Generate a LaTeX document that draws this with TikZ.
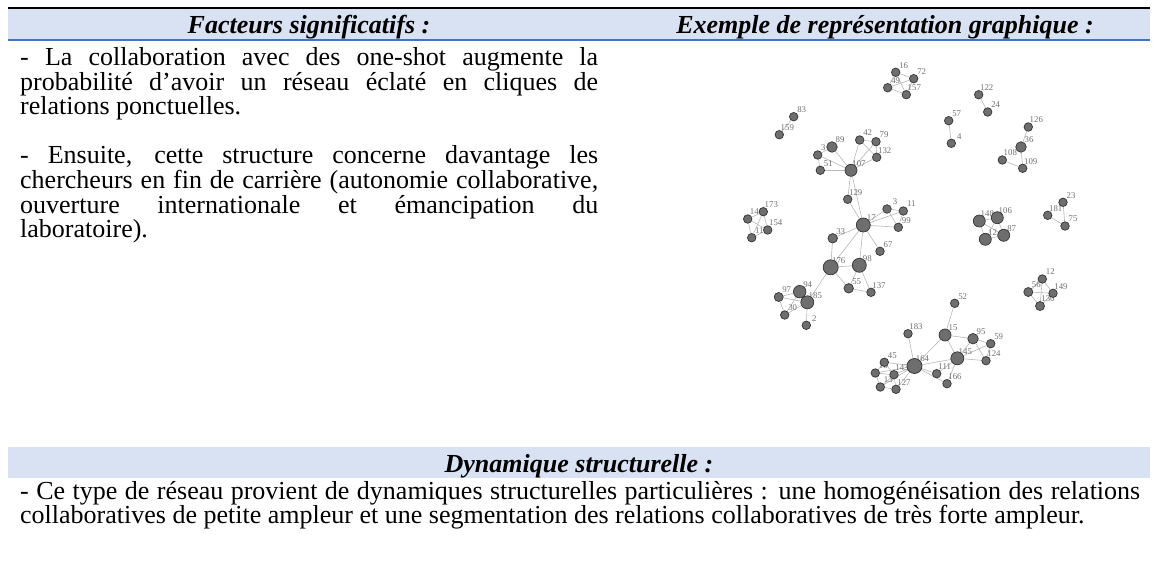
\documentclass[tikz,border=0pt]{standalone}
\usepackage{fontspec}
\setmainfont{Liberation Serif}
\definecolor{bandblue}{HTML}{D9E2F3}
\definecolor{ruleblue}{HTML}{4472C4}
\definecolor{nodefill}{HTML}{6E6E6E}
\definecolor{nodeedge}{HTML}{333333}
\definecolor{edgegray}{HTML}{B8B8B8}
\definecolor{labelgray}{HTML}{707070}
\pgfdeclarelayer{bg}
\pgfdeclarelayer{edges}
\pgfdeclarelayer{labels}
\pgfsetlayers{bg,edges,labels,main}
\newcommand{\gnd}[6][8]{%
  \node[gnode, minimum size=#5pt] (n#2) at (#3,#4) {};
  \begin{pgfonlayer}{labels}\node[glabel] (l#2) at (#3+#1,#4-4.2) {#6};\end{pgfonlayer}}
\begin{document}
\begin{tikzpicture}[x=1pt,y=-1pt,
  hdr/.style={anchor=base, inner sep=0pt, font=\fontsize{26}{24.5}\selectfont\bfseries\itshape},
  body/.style={anchor=base west, inner sep=0pt, font=\fontsize{26}{24.5}\selectfont},
  gnode/.style={circle, fill=nodefill, draw=nodeedge, line width=0.7pt, inner sep=0pt},
  glabel/.style={anchor=base, inner sep=0pt, text=labelgray, font=\fontsize{8.8}{9}\selectfont},
  edge/.style={draw=edgegray, line width=0.6pt}]
\useasboundingbox (0,0) rectangle (1157,567);
\begin{pgfonlayer}{bg}
\fill[white] (0,0) rectangle (1157,567);
\fill[bandblue] (8,9) rectangle (1150,40.3);
\fill[bandblue] (8,447.3) rectangle (1150,477.7);
\draw[black, line width=2.3pt] (8,7.85) -- (1150,7.85);
\draw[ruleblue, line width=1.8pt] (8,40.3) -- (1150,40.3);
\end{pgfonlayer}
% headers
\node[hdr] (h1) at (309,33.3) {Facteurs significatifs :};
\node[hdr] (h2) at (885,33.3) {Exemple de représentation graphique :};
\node[hdr] (h3) at (579,472) {Dynamique structurelle :};
% left column
\node[body] (t1) at (20,66) {\makebox[578pt][s]{- La collaboration avec des one-shot augmente la}};
\node[body] (t2) at (20,90.5) {\makebox[578pt][s]{probabilité d’avoir un réseau éclaté en cliques de}};
\node[body] (t3) at (20,115) {relations ponctuelles.};
\node[body] (t4) at (20,164) {\makebox[578pt][s]{- Ensuite, cette structure concerne davantage les}};
\node[body] (t5) at (20,188.5) {\makebox[578pt][s]{chercheurs en fin de carrière (autonomie collaborative,}};
\node[body] (t6) at (20,213) {\makebox[578pt][s]{ouverture internationale et émancipation du}};
\node[body] (t7) at (20,237.5) {laboratoire).};
% bottom
\node[body] (b1) at (20,499) {\makebox[1120pt][s]{- Ce type de réseau provient de dynamiques structurelles particulières : une homogénéisation des relations}};
\node[body] (b2) at (20,523.5) {collaboratives de petite ampleur et une segmentation des relations collaboratives de très forte ampleur.};
% graph nodes
\gnd{16}{895.7}{72.3}{8.5}{16}
\gnd{72}{913.7}{78.7}{8.5}{72}
\gnd{49}{887.7}{87.7}{8.5}{49}
\gnd{157}{906.3}{94.7}{8.5}{157}
\gnd{83}{793.7}{116.7}{8.5}{83}
\gnd{159}{779.3}{134.7}{8.5}{159}
\gnd[5.6]{34}{817.7}{155}{8.5}{3}
\gnd{89}{832}{147}{10.5}{89}
\gnd{51}{820.3}{170.3}{8.5}{51}
\gnd{107}{851}{170.3}{12}{107}
\gnd{42}{859.7}{140}{8.5}{42}
\gnd{79}{876}{141.7}{8.5}{79}
\gnd{132}{876.7}{157.3}{8.5}{132}
\gnd{122}{978.7}{94.7}{8.5}{122}
\gnd{24}{987.7}{112}{8.5}{24}
\gnd{57}{948.7}{120.7}{8.5}{57}
\gnd{4}{951.3}{143.3}{8.5}{4}
\gnd{126}{1028.3}{127}{8.5}{126}
\gnd{36}{1021}{147}{10.5}{36}
\gnd{108}{1002.3}{160}{8.5}{108}
\gnd{109}{1022.7}{168.3}{8.5}{109}
\gnd{129}{847.7}{199.3}{8.5}{129}
\gnd{17}{863.3}{225}{14}{17}
\gnd{3}{887}{209}{8.5}{3}
\gnd{11}{903.3}{211}{8.5}{11}
\gnd{99}{898.3}{227.3}{8.5}{99}
\gnd{33}{832.7}{238.3}{9.5}{33}
\gnd{67}{880}{251.3}{8.5}{67}
\gnd{176}{830.7}{267.3}{15}{176}
\gnd{98}{859.3}{265.3}{14}{98}
\gnd[6.6]{14x}{747.7}{219}{8.5}{14}
\gnd{173}{763.3}{211.7}{8.5}{173}
\gnd{154}{767.7}{230}{8.5}{154}
\gnd[7.6]{11x}{751.7}{237.7}{8.5}{11}
\gnd{148}{979.3}{221}{12}{148}
\gnd{106}{997.3}{217.7}{12}{106}
\gnd[7.4]{12x}{985.3}{239.3}{12}{12}
\gnd{87}{1003.7}{235.3}{12}{87}
\gnd{23}{1063}{202.3}{8.5}{23}
\gnd{181}{1047.7}{215.3}{8.5}{181}
\gnd{75}{1065}{226}{8.5}{75}
\gnd{55}{848.7}{288.3}{9.5}{55}
\gnd{137}{871}{292.3}{8.5}{137}
\gnd{94}{799.7}{291.7}{12.5}{94}
\gnd{97}{778.7}{297}{9}{97}
\gnd{185}{807.3}{302.3}{13}{185}
\gnd{30}{784.7}{315}{8.5}{30}
\gnd{2}{806.3}{325.3}{8.5}{2}
\gnd{12}{1042.3}{279}{8.5}{12}
\gnd{56}{1028.3}{292}{9}{56}
\gnd{149}{1053}{293.3}{8.5}{149}
\gnd{130}{1040}{306}{9}{130}
\gnd{52}{954.7}{303.3}{8.5}{52}
\gnd{183}{908}{333.7}{8.5}{183}
\gnd{15}{945}{335}{12}{15}
\gnd{95}{973}{338.7}{10.5}{95}
\gnd{59}{990.7}{343.7}{8.5}{59}
\gnd{145}{957.3}{358.3}{13}{145}
\gnd{124}{986}{360.7}{8.5}{124}
\gnd{164}{914.5}{366}{15}{164}
\gnd{45}{884.3}{362.3}{8.5}{45}
\gnd{10x}{875.3}{373}{8.5}{10}
\gnd{143}{894}{374.7}{8.5}{143}
\gnd{13x}{880.3}{387}{8.5}{13}
\gnd{127}{896}{389.3}{8.5}{127}
\gnd{111}{936.7}{373.7}{8.5}{111}
\gnd{166}{947}{383.7}{8.5}{166}
% edges
\begin{pgfonlayer}{edges}
\foreach \a/\b in {16/72,16/49,16/157,72/49,72/157,49/157,83/159,
  89/107,34/107,51/107,34/51,34/89,42/107,79/107,132/107,42/79,42/132,79/132,
  122/24,57/4,126/36,36/109,108/109,
  107/129,129/17,107/17,17/3,17/11,17/99,3/11,3/99,11/99,
  17/33,17/176,17/98,17/67,33/176,176/98,
  14x/173,14x/154,14x/11x,173/154,173/11x,154/11x,
  148/106,148/12x,148/87,106/12x,106/87,12x/87,
  23/75,181/75,
  176/55,98/55,98/137,55/137,
  176/185,94/185,97/94,97/185,97/30,30/185,185/2,30/94,
  12/56,12/149,12/130,56/149,56/130,149/130,
  52/15,183/164,15/164,15/95,15/145,95/59,95/145,95/124,59/145,59/124,145/124,
  145/164,164/111,111/145,145/166,164/166,
  164/45,164/10x,164/143,164/13x,164/127,45/10x,45/143,10x/143,10x/13x,143/127,13x/127,143/13x}
  \draw[edge] (n\a) -- (n\b);
\end{pgfonlayer}
\end{tikzpicture}
\end{document}
